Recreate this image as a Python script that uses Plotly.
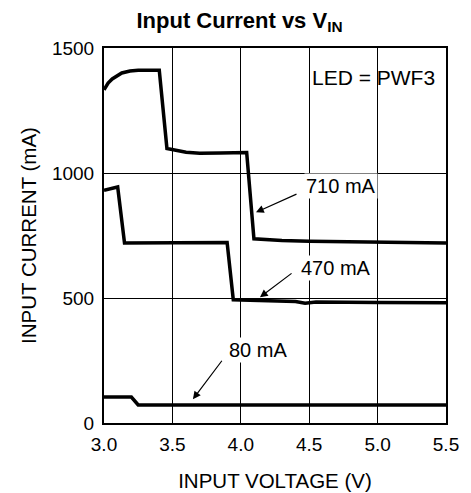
import plotly.graph_objects as go

# Data
v_710 = [3.00, 3.03, 3.06, 3.09, 3.13, 3.19, 3.25, 3.404, 3.46, 3.60, 3.70, 3.85, 4.043, 4.096, 4.30, 4.50, 5.00, 5.50]
i_710 = [1333, 1360, 1376, 1388, 1400, 1408, 1411, 1411, 1098, 1083, 1079, 1080, 1082, 737, 730, 727, 723, 720]

v_470 = [3.00, 3.10, 3.15, 3.50, 3.90, 3.945, 4.10, 4.40, 4.47, 4.55, 5.00, 5.50]
i_470 = [931, 944, 720, 720, 722, 493, 490, 486, 479, 484, 482, 481]

v_80 = [3.00, 3.20, 3.25, 4.00, 5.00, 5.50]
i_80 = [104, 104, 72, 72, 72, 72]

series_labels = ["710 mA", "470 mA", "80 mA"]
x_ticks = [3.0, 3.5, 4.0, 4.5, 5.0, 5.5]
y_ticks = [0, 500, 1000, 1500]

FONT = "Liberation Sans, Arial, sans-serif"

fig = go.Figure()
for vx, iy, name in [(v_710, i_710, series_labels[0]), (v_470, i_470, series_labels[1]), (v_80, i_80, series_labels[2])]:
    fig.add_trace(go.Scatter(x=vx, y=iy, mode="lines", name=name,
                             line=dict(color="black", width=3.5), showlegend=False))

# labels with arrows: (text x, text y, arrow tail x, tail y, head x, head y)
label_pos = [
    (4.465, 947, 4.418, 918, 4.111, 843),
    (4.428, 619, 4.382, 603, 4.14, 503),
    (3.90, 291, 3.87, 255, 3.65, 95),
]
annotations = []
for lbl, (tx, ty, ax, ay, hx, hy) in zip(series_labels, label_pos):
    annotations.append(dict(x=tx, y=ty, xref="x", yref="y", text=lbl, showarrow=False,
                            xanchor="left", yanchor="middle",
                            font=dict(family=FONT, size=20, color="black"), bgcolor="white"))
    annotations.append(dict(x=hx, y=hy, ax=ax, ay=ay, xref="x", yref="y", axref="x", ayref="y",
                            text="", showarrow=True, arrowhead=2, arrowsize=1.3, arrowwidth=1.2,
                            arrowcolor="black"))
annotations.append(dict(x=4.506, y=1384, xref="x", yref="y", text="LED = PWF3", showarrow=False,
                        xanchor="left", yanchor="middle",
                        font=dict(family=FONT, size=21, color="black")))

# page body has an 8px margin, so the figure is drawn offset by 8px
fig.update_layout(
    width=463, height=485,
    margin=dict(l=96, r=25, t=40, b=70),
    paper_bgcolor="white", plot_bgcolor="white",
    title=dict(text="<b>Input Current vs V<sub>IN</sub></b>", x=0.5, xanchor="center",
               y=0.975, yanchor="middle", font=dict(family=FONT, size=22, color="black")),
    font=dict(family=FONT, size=19, color="black"),
    annotations=annotations,
)
fig.update_xaxes(range=[3.0, 5.5], tickvals=x_ticks, ticktext=[f"{t:.1f}" for t in x_ticks],
                 showgrid=True, gridcolor="black", gridwidth=1,
                 showline=True, linecolor="black", linewidth=2, mirror=True,
                 ticks="", zeroline=False, ticklabelstandoff=3, automargin=False,
                 title=dict(text="INPUT VOLTAGE (V)", font=dict(family=FONT, size=20.5), standoff=20))
fig.update_yaxes(range=[0, 1500], tickvals=y_ticks,
                 showgrid=True, gridcolor="black", gridwidth=1,
                 showline=True, linecolor="black", linewidth=2, mirror=True,
                 ticks="", zeroline=False, ticklabelstandoff=4, automargin=False,
                 title=dict(text="INPUT CURRENT (mA)", font=dict(family=FONT, size=20.5), standoff=10))

fig.write_html("out.html")
